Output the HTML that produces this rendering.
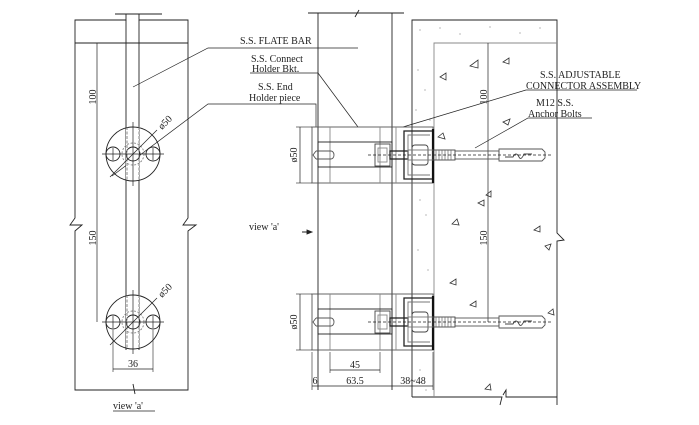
<!DOCTYPE html>
<html><head><meta charset="utf-8"><style>
html,body{margin:0;padding:0;background:#fff}
svg{display:block}
text{font-family:"Liberation Serif",serif;font-size:10px;fill:#222}
</style></head><body>
<svg width="699" height="425" viewBox="0 0 699 425" xmlns="http://www.w3.org/2000/svg">
<defs>
<g id="disc" stroke="#222" fill="none" stroke-width="0.9">
  <circle r="27"/>
  <circle cx="-20" r="7"/><circle cx="20" r="7"/>
  <circle r="7"/>
  <circle r="11" stroke="#888" stroke-dasharray="2 1.5"/>
  <line x1="-6" y1="-27" x2="-6" y2="27" stroke="#777" stroke-dasharray="3 1.5"/>
  <line x1="6" y1="-27" x2="6" y2="27" stroke="#777" stroke-dasharray="3 1.5"/>
  <line x1="-31" y1="0" x2="31" y2="0" stroke-width="0.7"/>
  <line x1="-20" y1="-6" x2="-20" y2="6" stroke-width="0.7"/>
  <line x1="20" y1="-6" x2="20" y2="6" stroke-width="0.7"/>
  <line x1="0" y1="-32" x2="0" y2="32" stroke-width="0.7"/>
  <line x1="-23" y1="23" x2="24" y2="-24" stroke-width="0.7"/>
</g>
<g id="asm" fill="none" stroke-width="0.9">
  <rect x="312" y="-28" width="121" height="56" stroke="#555"/>
  <g stroke="#888"><line x1="330" y1="-28" x2="330" y2="28"/><line x1="380" y1="-28" x2="380" y2="28"/><line x1="396" y1="-28" x2="396" y2="28"/></g>
  <rect x="318" y="-13" width="74" height="25" stroke="#222"/>
  <path d="M316 -4 l-3 4 l3 4 M316 -4 h15 a3 4 0 0 1 0 8 h-15" stroke="#555"/>
  <rect x="375" y="-11" width="15" height="22" stroke="#444"/>
  <rect x="378" y="-7" width="9" height="14" stroke="#888"/>
  <rect x="390" y="-4" width="18" height="8" stroke="#222" stroke-width="1.3"/>
  <path d="M433 -24 H404 V24 H433" stroke="#222" stroke-width="1.3"/>
  <path d="M430 -20 H408 V20 H430" stroke="#777"/>
  <line x1="433" y1="-26" x2="433" y2="28" stroke="#111" stroke-width="2.2"/>
  <rect x="412" y="-10" width="16" height="20" rx="3" stroke="#444"/>
  <rect x="408" y="-5" width="25" height="10" stroke="#777"/>
  <rect x="433" y="-5" width="22" height="10" stroke="#444"/>
  <path d="M436 -5v10M439 -5v10M442 -5v10M445 -5v10M448 -5v10M451 -5v10" stroke="#666" stroke-width="0.7"/>
  <rect x="455" y="-4" width="44" height="8" stroke="#555"/>
  <path d="M499 -6 H542 L545 -3 V3 L542 6 H499 Z" stroke="#555"/>
  <path d="M505 2 h8 q3 -6 6 0 q2 4 5 -3 h8" stroke="#444"/>
  <line x1="368" y1="0" x2="552" y2="0" stroke="#222" stroke-width="0.7" stroke-dasharray="3 2"/>
  <line x1="300" y1="-28" x2="300" y2="28" stroke="#222" stroke-width="0.7"/>
  <line x1="296" y1="-28" x2="312" y2="-28" stroke="#222" stroke-width="0.6"/>
  <line x1="296" y1="28" x2="312" y2="28" stroke="#222" stroke-width="0.6"/>
</g>
</defs>

<!-- LEFT VIEW -->
<g stroke="#222" fill="none" stroke-width="0.9">
  <path d="M126 14 V20 H75 V218 L70 225 L82 225 L75 231 V390 H188 V231 L196 225 L183 225 L188 218 V20 H139 V14"/>
  <line x1="115" y1="14" x2="162" y2="14"/>
  <line x1="75" y1="43" x2="188" y2="43"/>
  <line x1="126" y1="20" x2="126" y2="350"/><line x1="139" y1="20" x2="139" y2="350"/>
  <line x1="133" y1="384" x2="135" y2="394"/>
  <line x1="97" y1="43" x2="97" y2="322" stroke-width="0.7"/>
  <line x1="113" y1="330" x2="113" y2="372" stroke-width="0.6"/>
  <line x1="153" y1="330" x2="153" y2="372" stroke-width="0.6"/>
  <line x1="113" y1="369" x2="153" y2="369" stroke-width="0.7"/>
  <path d="M133 87 L208 48 H358" stroke-width="0.7"/>
  <path d="M112 176 L208 104 H316 V127" stroke-width="0.7"/>
  <line x1="113" y1="411" x2="155" y2="411" stroke-width="0.7"/>
</g>
<rect x="126" y="128" width="13" height="52" fill="#fff"/>
<rect x="126" y="296" width="13" height="52" fill="#fff"/>
<use href="#disc" x="133" y="154"/>
<use href="#disc" x="133" y="322"/>
<text transform="translate(96,97) rotate(-90)" text-anchor="middle">100</text>
<text transform="translate(96,238) rotate(-90)" text-anchor="middle">150</text>
<text transform="translate(162,130) rotate(-45)" font-size="9">ø50</text>
<text transform="translate(162,298) rotate(-45)" font-size="9">ø50</text>
<text x="133" y="367" text-anchor="middle">36</text>
<text x="113" y="409">view 'a'</text>

<!-- RIGHT VIEW -->
<g stroke="#222" fill="none" stroke-width="0.9">
  <line x1="308" y1="13" x2="404" y2="13"/>
  <line x1="355" y1="17" x2="359" y2="10"/>
  <line x1="318" y1="13" x2="318" y2="390"/><line x1="392" y1="13" x2="392" y2="390"/>
  <path d="M412 397 V20 H557 V233 L564 240 L557 241 V405"/>
  <path d="M412 397 H502 L500 405 M503 395 L506 390 V397 H557" />
  <path d="M434 397 V43 H557" stroke="#888"/>
  <line x1="488" y1="43" x2="488" y2="322" stroke-width="0.7"/>
  <line x1="312" y1="352" x2="312" y2="390" stroke-width="0.6"/>
  <line x1="330" y1="352" x2="330" y2="373" stroke-width="0.6"/>
  <line x1="380" y1="352" x2="380" y2="373" stroke-width="0.6"/>
  <line x1="433" y1="352" x2="433" y2="390" stroke-width="0.6"/>
  <line x1="330" y1="370" x2="380" y2="370" stroke-width="0.7"/>
  <line x1="312" y1="386" x2="433" y2="386" stroke-width="0.7"/>
  <path d="M318 73 L358 127" stroke-width="0.7"/>
  <path d="M250 73 H318" stroke-width="0.7"/>
  <path d="M403 127 L526 90 H637" stroke-width="0.7"/>
  <path d="M475 148 L528 118 H592" stroke-width="0.7"/>
  <path d="M302 232 H312" stroke-width="1"/>
  <path d="M312 232 l-5 -2 v4 z" fill="#222"/>
</g>
<g fill="#888">
  <circle cx="420" cy="30" r=".6"/><circle cx="440" cy="28" r=".6"/><circle cx="460" cy="34" r=".6"/><circle cx="490" cy="27" r=".6"/><circle cx="520" cy="33" r=".6"/><circle cx="540" cy="28" r=".6"/><circle cx="418" cy="70" r=".6"/><circle cx="425" cy="90" r=".6"/><circle cx="420" cy="200" r=".6"/><circle cx="426" cy="215" r=".6"/><circle cx="418" cy="250" r=".6"/><circle cx="428" cy="270" r=".6"/><circle cx="420" cy="370" r=".6"/><circle cx="426" cy="390" r=".6"/><circle cx="430" cy="120" r=".6"/><circle cx="416" cy="110" r=".6"/>
</g>
<g stroke="#333" fill="none" stroke-width="0.8">
  <path d="M470 66 l8 -6 l0 8 z"/><path d="M503 62 l6 -4 l0 6 z"/><path d="M440 77 l6 -4 l0 7 z"/><path d="M503 122 l7 -3 l-2 6 z"/><path d="M438 137 l5 -4 l2 6 z"/><path d="M486 195 l5 -4 l0 6 z"/><path d="M478 203 l6 -3 l0 6 z"/><path d="M452 224 l5 -5 l2 6 z"/><path d="M534 230 l6 -4 l0 6 z"/><path d="M545 246 l6 -2 l-2 6 z"/><path d="M450 283 l6 -4 l0 6 z"/><path d="M470 305 l6 -4 l0 6 z"/><path d="M548 313 l5 -4 l1 6 z"/><path d="M485 389 l5 -5 l1 6 z"/>
</g>
<use href="#asm" y="155"/>
<use href="#asm" y="322"/>
<text x="240" y="44">S.S. FLATE BAR</text>
<text x="251" y="62">S.S. Connect</text>
<text x="252" y="72">Holder Bkt.</text>
<text x="258" y="90">S.S. End</text>
<text x="249" y="101">Holder piece</text>
<text x="249" y="230">view 'a'</text>
<text transform="translate(297,155) rotate(-90)" text-anchor="middle">ø50</text>
<text transform="translate(297,322) rotate(-90)" text-anchor="middle">ø50</text>
<text x="355" y="368" text-anchor="middle">45</text>
<text x="315" y="384" text-anchor="middle" font-size="9">6</text>
<text x="355" y="384" text-anchor="middle">63.5</text>
<text x="413" y="384" text-anchor="middle">38~48</text>
<text transform="translate(487,97) rotate(-90)" text-anchor="middle">100</text>
<text transform="translate(487,238) rotate(-90)" text-anchor="middle">150</text>
<text x="540" y="78" font-size="9.5">S.S. ADJUSTABLE</text>
<text x="526" y="89" font-size="9.5">CONNECTOR ASSEMBLY</text>
<text x="536" y="106" font-size="9.5">M12 S.S.</text>
<text x="528" y="117" font-size="9.5">Anchor Bolts</text>
</svg>
</body></html>
